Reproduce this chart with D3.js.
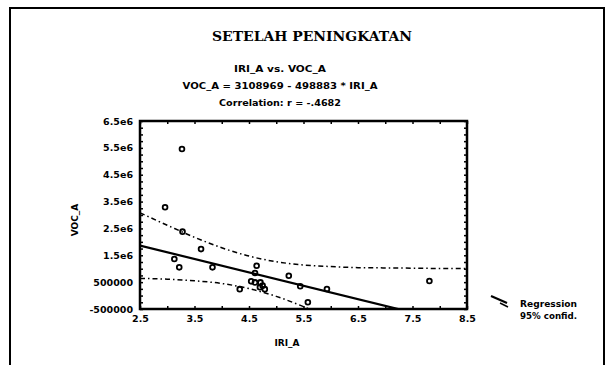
<!DOCTYPE html>
<html>
<head>
<meta charset="utf-8">
<script src="https://cdn.jsdelivr.net/npm/d3@7"></script>
<style>
  body { margin: 0; background: #fff; }
  svg { display: block; }
</style>
</head>
<body>
<div id="chart"></div>
<script>
// scatter points
var iriA = [3.27, 2.96, 3.28, 3.62, 3.13, 3.22, 3.83, 4.64, 4.61, 5.23, 4.54, 4.61, 4.71, 4.75, 4.79, 4.70, 4.33, 5.44, 5.93, 5.58, 7.81];
var vocA = [5460000, 3290000, 2380000, 1730000, 1360000, 1050000, 1050000, 1110000, 840000, 740000, 530000, 490000, 490000, 370000, 240000, 310000, 240000, 345000, 245000, -250000, 540000];

// regression from the header text
var intercept = 3108969;
var slope = -498883;

// 95% confidence band, read at these x values
var bandX = [2.5, 3, 3.5, 4, 4.5, 5, 5.5, 6, 6.5, 7, 7.5, 8, 8.5];
var bandUpper = [3080000, 2620000, 2170000, 1780000, 1470000, 1260000, 1140000, 1080000, 1040000, 1030000, 1020000, 1010000, 1010000];
var bandLower = [640000, 610000, 550000, 450000, 260000, -30000, -410000, -850000];

var xTicks = [2.5, 3.5, 4.5, 5.5, 6.5, 7.5, 8.5];
var xTickLabels = ["2.5", "3.5", "4.5", "5.5", "6.5", "7.5", "8.5"];
var yTicks = [-500000, 500000, 1500000, 2500000, 3500000, 4500000, 5500000, 6500000];
var yTickLabels = ["-500000", "500000", "1.5e6", "2.5e6", "3.5e6", "4.5e6", "5.5e6", "6.5e6"];

var width = 608, height = 365;
var pLeft = 140, pRight = 467, pTop = 121, pBottom = 309;

var svg = d3.select('#chart').append('svg')
  .attr('width', width)
  .attr('height', height);

// page border of the scan
svg.append('path')
  .attr('d', 'M10,365 L10,8 L604,8 L604,365')
  .attr('fill', 'none')
  .attr('stroke', '#000')
  .attr('stroke-width', 2);

var x = d3.scaleLinear().domain([2.5, 8.5]).range([pLeft, pRight]);
var y = d3.scaleLinear().domain([-500000, 6500000]).range([pBottom, pTop]);

// titles
svg.append('text')
  .attr('x', 312).attr('y', 41)
  .attr('text-anchor', 'middle')
  .attr('font-family', 'DejaVu Serif')
  .attr('font-weight', 'bold')
  .attr('font-size', 12)
  .attr('textLength', 200)
  .attr('lengthAdjust', 'spacingAndGlyphs')
  .text('SETELAH PENINGKATAN');

var subs = [
  { t: 'IRI_A vs. VOC_A', y: 72, w: 92 },
  { t: 'VOC_A = 3108969 - 498883 * IRI_A', y: 89, w: 195 },
  { t: 'Correlation: r = -.4682', y: 106, w: 122 }
];
svg.selectAll('.sub').data(subs).enter().append('text')
  .attr('class', 'sub')
  .attr('x', 280).attr('y', function(d) { return d.y; })
  .attr('text-anchor', 'middle')
  .attr('font-family', 'DejaVu Sans')
  .attr('font-weight', 'bold')
  .attr('font-size', 9.5)
  .attr('textLength', function(d) { return d.w; })
  .attr('lengthAdjust', 'spacingAndGlyphs')
  .text(function(d) { return d.t; });

// small inner ticks on all four sides
var minorX = d3.range(2.5, 8.51, 0.5);
var minorY = d3.range(-500000, 6500001, 250000);
svg.append('g').attr('transform', 'translate(0,' + pBottom + ')')
  .call(d3.axisBottom(x).tickValues(minorX).tickSize(-3).tickFormat(''));
svg.append('g').attr('transform', 'translate(0,' + pTop + ')')
  .call(d3.axisTop(x).tickValues(minorX).tickSize(-3).tickFormat(''));
svg.append('g').attr('transform', 'translate(' + pLeft + ',0)')
  .call(d3.axisLeft(y).tickValues(minorY).tickSize(-3).tickFormat(''));
svg.append('g').attr('transform', 'translate(' + pRight + ',0)')
  .call(d3.axisRight(y).tickValues(minorY).tickSize(-3).tickFormat(''));
svg.selectAll('.domain').remove();
svg.selectAll('.tick line').attr('stroke', '#000').attr('stroke-width', 1.5);

// labelled axes
var xAxis = svg.append('g').attr('transform', 'translate(0,' + pBottom + ')')
  .call(d3.axisBottom(x).tickValues(xTicks).tickSize(0).tickPadding(6)
    .tickFormat(function(d, i) { return xTickLabels[i]; }));
var yAxis = svg.append('g').attr('transform', 'translate(' + pLeft + ',0)')
  .call(d3.axisLeft(y).tickValues(yTicks).tickSize(0).tickPadding(7)
    .tickFormat(function(d, i) { return yTickLabels[i]; }));
[xAxis, yAxis].forEach(function(g) {
  g.select('.domain').remove();
  g.selectAll('text')
    .attr('font-family', 'DejaVu Sans')
    .attr('font-weight', 'bold')
    .attr('font-size', 9.5)
    .attr('fill', '#000');
});

svg.append('text')
  .attr('x', 287).attr('y', 346)
  .attr('text-anchor', 'middle')
  .attr('font-family', 'DejaVu Sans')
  .attr('font-weight', 'bold')
  .attr('font-size', 9)
  .text('IRI_A');

svg.append('text')
  .attr('transform', 'translate(78,220) rotate(-90)')
  .attr('text-anchor', 'middle')
  .attr('font-family', 'DejaVu Sans')
  .attr('font-weight', 'bold')
  .attr('font-size', 9)
  .text('VOC_A');

// plot contents
svg.append('clipPath').attr('id', 'clip')
  .append('rect')
  .attr('x', pLeft).attr('y', pTop)
  .attr('width', pRight - pLeft).attr('height', pBottom - pTop);

var plot = svg.append('g').attr('clip-path', 'url(#clip)');

var band = d3.line()
  .x(function(d) { return x(d[0]); })
  .y(function(d) { return y(d[1]); })
  .curve(d3.curveMonotoneX);

plot.append('path')
  .attr('d', band(bandUpper.map(function(v, i) { return [bandX[i], v]; })))
  .attr('fill', 'none')
  .attr('stroke', '#000')
  .attr('stroke-width', 1.5)
  .attr('stroke-dasharray', '5,3,1.5,3');

plot.append('path')
  .attr('d', band(bandLower.map(function(v, i) { return [bandX[i], v]; })))
  .attr('fill', 'none')
  .attr('stroke', '#000')
  .attr('stroke-width', 1.5)
  .attr('stroke-dasharray', '5,3,1.5,3');

var regLine = d3.line()
  .x(function(d) { return x(d); })
  .y(function(d) { return y(intercept + slope * d); });

plot.append('path')
  .attr('d', regLine([2.5, 8.5]))
  .attr('fill', 'none')
  .attr('stroke', '#000')
  .attr('stroke-width', 2.2);

plot.selectAll('circle')
  .data(iriA)
  .enter()
  .append('circle')
  .attr('cx', function(d) { return x(d); })
  .attr('cy', function(d, i) { return y(vocA[i]); })
  .attr('r', 2.4)
  .attr('fill', 'none')
  .attr('stroke', '#000')
  .attr('stroke-width', 1.8);

// frame
svg.append('rect')
  .attr('x', pLeft).attr('y', pTop)
  .attr('width', pRight - pLeft).attr('height', pBottom - pTop)
  .attr('fill', 'none')
  .attr('stroke', '#000')
  .attr('stroke-width', 2.5);

// legend
var lg = svg.append('g');
lg.append('line')
  .attr('x1', 491).attr('y1', 296).attr('x2', 507).attr('y2', 303)
  .attr('stroke', '#000').attr('stroke-width', 2.2);
lg.append('line')
  .attr('x1', 500).attr('y1', 303).attr('x2', 508).attr('y2', 307)
  .attr('stroke', '#000').attr('stroke-width', 1.5);
lg.selectAll('text')
  .data(['Regression', '95% confid.'])
  .enter()
  .append('text')
  .attr('x', 520)
  .attr('y', function(d, i) { return 307 + i * 12; })
  .attr('font-family', 'DejaVu Sans')
  .attr('font-weight', 'bold')
  .attr('font-size', 9)
  .attr('textLength', 57)
  .attr('lengthAdjust', 'spacingAndGlyphs')
  .text(function(d) { return d; });
</script>
</body>
</html>
